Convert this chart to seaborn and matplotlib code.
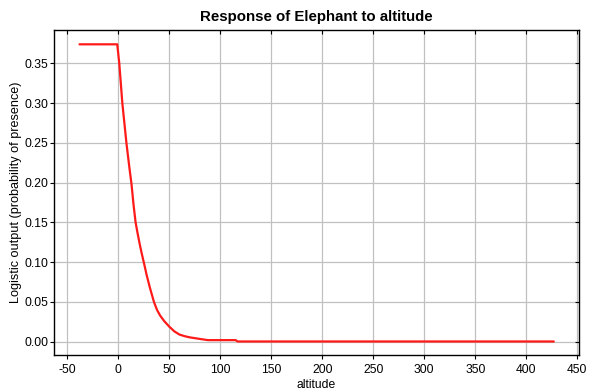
import matplotlib
matplotlib.use("Agg")
import matplotlib.pyplot as plt
import seaborn as sns
import pandas as pd

altitude = [-38, -1, 1, 4, 8, 11, 13, 15, 17, 19, 21, 23, 25, 28, 31, 35, 38, 41, 45, 50, 55, 60, 65,
            70, 75, 80, 88, 115, 117, 427]
response = [0.374, 0.374, 0.35, 0.30, 0.25, 0.218, 0.198, 0.172, 0.15, 0.136, 0.123, 0.111, 0.10, 0.083,
            0.068, 0.05, 0.040, 0.033, 0.026, 0.019, 0.013, 0.009, 0.007, 0.0055, 0.0045, 0.0035,
            0.002, 0.002, 0.0003, 0.0003]
xticks = [-50, 0, 50, 100, 150, 200, 250, 300, 350, 400, 450]
yticks = [0.00, 0.05, 0.10, 0.15, 0.20, 0.25, 0.30, 0.35]

sns.set_style("ticks")
plt.rcParams['font.family'] = ['Liberation Sans', 'DejaVu Sans']
plt.rcParams['text.color'] = 'black'
plt.rcParams['axes.labelcolor'] = 'black'
plt.rcParams['xtick.color'] = 'black'
plt.rcParams['ytick.color'] = 'black'

df = pd.DataFrame({"altitude": altitude, "response": response})

fig = plt.figure(figsize=(5.91, 3.91), dpi=100)
ax = fig.add_axes([54/591, 1-355/391, (579-54)/591, (355-30)/391])

sns.lineplot(data=df, x="altitude", y="response", ax=ax, color="#ff1a1a", linewidth=1.6)

ax.set_xlim(-63, 451.7)
ax.set_ylim(-0.0167, 0.392)
ax.set_xticks(xticks)
ax.set_xticklabels([str(v) for v in xticks])
ax.set_yticks(yticks)
ax.set_yticklabels([f"{v:.2f}" for v in yticks])
ax.grid(True, color="#c0c0c0", linewidth=0.9)
ax.set_axisbelow(True)

for s in ax.spines.values():
    s.set_visible(True)
    s.set_color("black")
    s.set_linewidth(1.0)

ax.tick_params(axis="both", which="both", labelsize=8.7, length=3, width=0.8,
               color="black", labelcolor="black")
ax.tick_params(axis="y", pad=0.8)
ax.tick_params(axis="x", pad=3.5)
ax.tick_params(top=True, right=True, labeltop=False, labelright=False)
ax.xaxis.set_tick_params(which="both", direction="out")
ax.yaxis.set_tick_params(which="both", direction="out")

for t in ax.xaxis.get_major_ticks():
    t.tick2line.set_marker(matplotlib.lines.TICKDOWN)
for t in ax.yaxis.get_major_ticks():
    t.tick2line.set_marker(matplotlib.lines.TICKLEFT)

ax.set_xlabel("altitude", fontsize=8.7, labelpad=2, color="black")
ax.set_ylabel("Logistic output (probability of presence)", fontsize=9.1, color="black")
ax.yaxis.set_label_coords(-0.06, 0.5)
ax.set_title("Response of Elephant to altitude", fontsize=10.8, fontweight="bold", pad=6.5, color="black")

fig.savefig("out.png", dpi=100, facecolor="white")
